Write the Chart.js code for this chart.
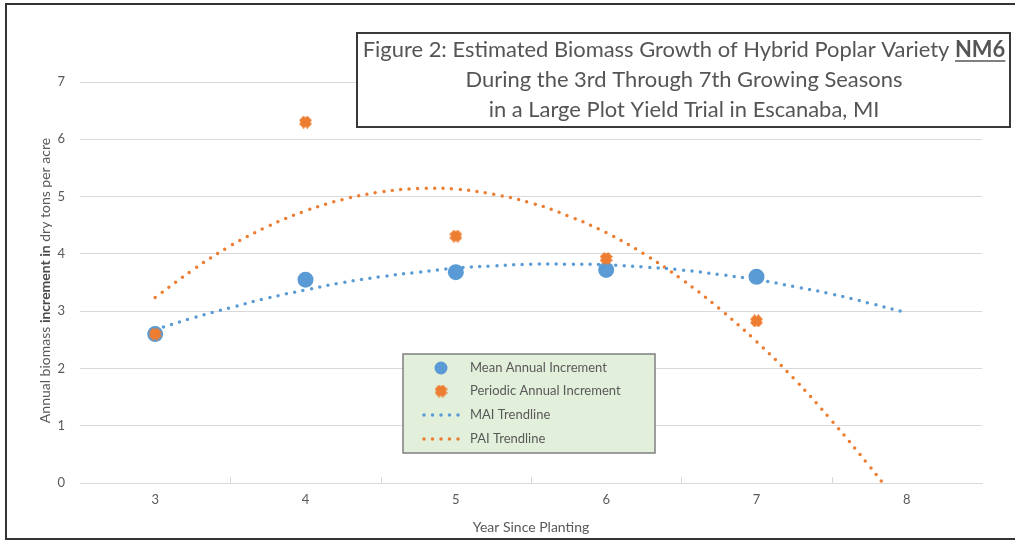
<!DOCTYPE html>
<html>
<head>
<meta charset="utf-8">
<script src="https://cdn.jsdelivr.net/npm/chart.js@4/dist/chart.umd.min.js"></script>
<style>
  html, body { margin: 0; padding: 0; background: #ffffff; }
  #wrap { width: 1015px; height: 543px; position: relative; }
</style>
</head>
<body>
<div id="wrap"><canvas id="c" width="1015" height="543"></canvas></div>
<script>
// ---- data ----
const years = [3, 4, 5, 6, 7];
const maiValues = [2.6, 3.55, 3.68, 3.72, 3.6];
const paiValues = [2.6, 6.3, 4.31, 3.92, 2.83];

const maiTrendYears = [3, 3.25, 3.5, 3.75, 4, 4.25, 4.5, 4.75, 5, 5.25, 5.5, 5.75, 6, 6.25, 6.5, 6.75, 7, 7.25, 7.5, 7.75, 8];
const maiTrend = [2.68, 2.88, 3.06, 3.23, 3.37, 3.50, 3.60, 3.68, 3.75, 3.79, 3.82, 3.82, 3.81, 3.77, 3.72, 3.64, 3.55, 3.43, 3.30, 3.14, 2.97];

const paiTrendYears = [3, 3.25, 3.5, 3.75, 4, 4.25, 4.5, 4.75, 5, 5.25, 5.5, 5.75, 6, 6.25, 6.5, 6.75, 7, 7.25, 7.5, 7.75, 7.84];
const paiTrend = [3.24, 3.72, 4.14, 4.48, 4.75, 4.95, 5.08, 5.14, 5.13, 5.04, 4.89, 4.66, 4.37, 4.00, 3.56, 3.05, 2.47, 1.82, 1.09, 0.30, 0];

const xTickValues = [3, 4, 5, 6, 7, 8];
const xMinorTicks = [3.5, 4.5, 5.5, 6.5, 7.5];
const yTickValues = [0, 1, 2, 3, 4, 5, 6, 7];

const seriesLabels = ['Mean Annual Increment', 'Periodic Annual Increment', 'MAI Trendline', 'PAI Trendline'];
const titleLines = ['Figure 2: Estimated Biomass Growth of Hybrid Poplar Variety ', 'NM6',
  'During the 3rd Through 7th Growing Seasons', 'in a Large Plot Yield Trial in Escanaba, MI'];
const xTitle = 'Year Since Planting';
const yTitleParts = [['Annual biomass ', 'normal'], ['increment in', 'bold'], [' dry tons per acre', 'normal']];

// ---- styles ----
const BLUE = '#5B9BD5';
const ORANGE = '#ED7D31';
const TEXT = '#595959';
const FONT = 'Lato, "Open Sans", sans-serif';

function xMarker(size, color) {
  const c = document.createElement('canvas');
  c.width = size; c.height = size;
  const g = c.getContext('2d');
  g.strokeStyle = color;
  g.lineWidth = size * 0.5;
  g.lineCap = 'butt';
  const a = size * 0.18, b = size * 0.82;
  g.beginPath();
  g.moveTo(a, a); g.lineTo(b, b);
  g.moveTo(b, a); g.lineTo(a, b);
  g.stroke();
  return c;
}
const orangeMarker = xMarker(13, ORANGE);

const toXY = (xs, ys) => xs.map((x, i) => ({ x: x, y: ys[i] }));

const decorPlugin = {
  id: 'decor',
  afterDraw(chart) {
    const ctx = chart.ctx;
    const xs = chart.scales.x;
    const area = chart.chartArea;
    ctx.save();

    // inside minor tick marks on x axis
    ctx.strokeStyle = '#d9d9d9';
    ctx.lineWidth = 1;
    xMinorTicks.forEach(v => {
      const px = Math.round(xs.getPixelForValue(v)) + 0.5;
      ctx.beginPath();
      ctx.moveTo(px, area.bottom);
      ctx.lineTo(px, area.bottom - 6);
      ctx.stroke();
    });

    // x title
    ctx.fillStyle = TEXT;
    ctx.font = '14px ' + FONT;
    ctx.textAlign = 'center';
    ctx.textBaseline = 'middle';
    ctx.fillText(xTitle, (area.left + area.right) / 2, 527);

    // y title (rotated, mixed weights)
    ctx.save();
    ctx.translate(45, (area.top + area.bottom) / 2 - 2);
    ctx.rotate(-Math.PI / 2);
    let total = 0;
    const widths = yTitleParts.map(p => {
      ctx.font = p[1] + ' 14px ' + FONT;
      const w = ctx.measureText(p[0]).width;
      total += w;
      return w;
    });
    let cx = -total / 2;
    ctx.textAlign = 'left';
    yTitleParts.forEach((p, i) => {
      ctx.font = p[1] + ' 14px ' + FONT;
      ctx.fillStyle = p[1] === 'bold' ? '#4a4a4a' : TEXT;
      ctx.fillText(p[0], cx, 0);
      cx += widths[i];
    });
    ctx.restore();

    // title box
    ctx.fillStyle = '#ffffff';
    ctx.fillRect(357, 33, 653, 94);
    ctx.strokeStyle = '#3a3a3a';
    ctx.lineWidth = 2;
    ctx.strokeRect(357, 33, 653, 94);

    ctx.font = '20px ' + FONT;
    const w1a = ctx.measureText(titleLines[0]).width;
    ctx.font = 'bold 20px ' + FONT;
    const w1b = ctx.measureText(titleLines[1]).width;
    const scale = 643 / (w1a + w1b);
    const fs = 20 * scale;
    const tcx = 684;
    ctx.fillStyle = '#555555';
    ctx.textBaseline = 'middle';
    ctx.font = fs + 'px ' + FONT;
    const a1 = ctx.measureText(titleLines[0]).width;
    ctx.font = 'bold ' + fs + 'px ' + FONT;
    const b1 = ctx.measureText(titleLines[1]).width;
    let sx = tcx - (a1 + b1) / 2;
    ctx.textAlign = 'left';
    ctx.font = fs + 'px ' + FONT;
    ctx.fillText(titleLines[0], sx, 50);
    ctx.font = 'bold ' + fs + 'px ' + FONT;
    ctx.fillText(titleLines[1], sx + a1, 50);
    ctx.strokeStyle = '#555555';
    ctx.lineWidth = 1.5;
    ctx.beginPath();
    ctx.moveTo(sx + a1, 61);
    ctx.lineTo(sx + a1 + b1, 61);
    ctx.stroke();
    ctx.textAlign = 'center';
    ctx.font = fs + 'px ' + FONT;
    ctx.fillText(titleLines[2], tcx, 80);
    ctx.fillText(titleLines[3], tcx, 110);

    // legend box
    const lx = 403, ly = 354, lw = 252, lh = 99;
    ctx.fillStyle = '#E2EFDA';
    ctx.fillRect(lx, ly, lw, lh);
    ctx.strokeStyle = '#7f7f7f';
    ctx.lineWidth = 1.5;
    ctx.strokeRect(lx, ly, lw, lh);
    const rows = [368, 391, 415, 439];
    ctx.fillStyle = BLUE;
    ctx.beginPath();
    ctx.arc(441, rows[0], 6.5, 0, Math.PI * 2);
    ctx.fill();
    ctx.drawImage(orangeMarker, 441 - 6.5, rows[1] - 6.5);
    [[BLUE, rows[2]], [ORANGE, rows[3]]].forEach(([col, yy]) => {
      ctx.strokeStyle = col;
      ctx.lineWidth = 3.5;
      ctx.lineCap = 'round';
      ctx.setLineDash([0, 8.5]);
      ctx.beginPath();
      ctx.moveTo(424, yy);
      ctx.lineTo(461, yy);
      ctx.stroke();
    });
    ctx.setLineDash([]);
    ctx.lineCap = 'butt';
    ctx.fillStyle = TEXT;
    ctx.font = '13px ' + FONT;
    ctx.textAlign = 'left';
    ctx.textBaseline = 'middle';
    seriesLabels.forEach((t, i) => ctx.fillText(t, 470, rows[i]));

    // outer frame
    ctx.strokeStyle = '#333333';
    ctx.lineWidth = 2;
    ctx.beginPath();
    ctx.moveTo(1015, 4);
    ctx.lineTo(6, 4);
    ctx.lineTo(6, 539);
    ctx.lineTo(1015, 539);
    ctx.stroke();

    ctx.restore();
  }
};

new Chart(document.getElementById('c'), {
  type: 'scatter',
  data: {
    datasets: [
      {
        label: seriesLabels[1],
        data: toXY(years, paiValues),
        pointStyle: orangeMarker,
        pointRadius: 6.5,
        backgroundColor: ORANGE,
        borderColor: ORANGE,
        order: 0
      },
      {
        label: seriesLabels[0],
        data: toXY(years, maiValues),
        pointStyle: 'circle',
        pointRadius: 8,
        backgroundColor: BLUE,
        borderColor: BLUE,
        borderWidth: 0,
        order: 1
      },
      {
        label: seriesLabels[2],
        data: toXY(maiTrendYears, maiTrend),
        showLine: true,
        pointRadius: 0,
        borderColor: BLUE,
        borderWidth: 3.5,
        borderDash: [0, 8.5],
        borderCapStyle: 'round',
        tension: 0.4,
        order: 2
      },
      {
        label: seriesLabels[3],
        data: toXY(paiTrendYears, paiTrend),
        showLine: true,
        pointRadius: 0,
        borderColor: ORANGE,
        borderWidth: 3.5,
        borderDash: [0, 8.5],
        borderCapStyle: 'round',
        tension: 0.4,
        order: 3
      }
    ]
  },
  options: {
    responsive: false,
    animation: false,
    events: [],
    layout: { padding: { left: 0, top: 82, right: 33, bottom: 0 } },
    plugins: {
      legend: { display: false },
      tooltip: { enabled: false },
      title: { display: false }
    },
    scales: {
      x: {
        type: 'linear',
        min: 2.5,
        max: 8.5,
        afterBuildTicks: (s) => { s.ticks = xTickValues.map(v => ({ value: v })); },
        afterFit: (s) => { s.height = 60; },
        grid: { display: false, drawTicks: false },
        border: { display: true, color: '#d9d9d9', width: 1 },
        ticks: { color: TEXT, font: { family: FONT, size: 13 }, padding: 9, maxRotation: 0 }
      },
      y: {
        min: 0,
        max: 7,
        afterBuildTicks: (s) => { s.ticks = yTickValues.map(v => ({ value: v })); },
        afterFit: (s) => { s.width = 80; },
        grid: { color: '#d9d9d9', lineWidth: 1, drawTicks: false },
        border: { display: false },
        ticks: { color: TEXT, font: { family: FONT, size: 13 }, padding: 15 }
      }
    }
  },
  plugins: [decorPlugin]
});
</script>
</body>
</html>
